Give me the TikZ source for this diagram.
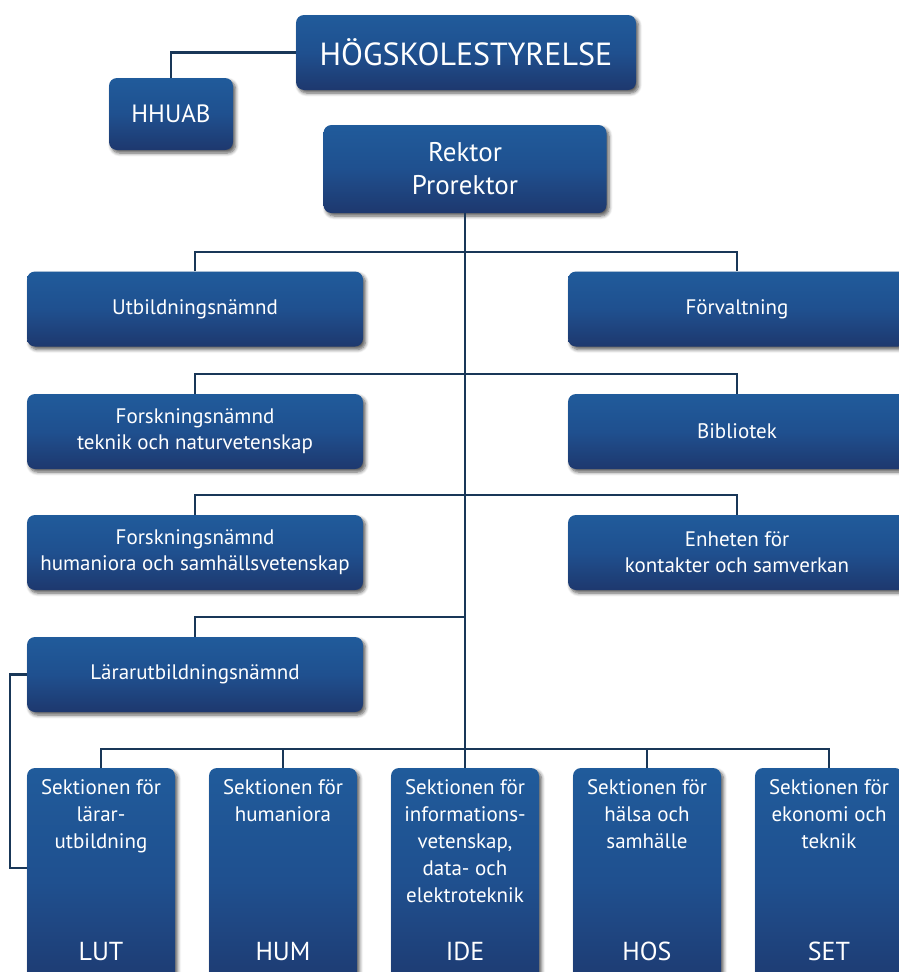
\documentclass[tikz,border=0pt]{standalone}
\usepackage{fontspec}
\setmainfont{PT Sans}
\usetikzlibrary{shadows.blur}
\definecolor{boxtop}{RGB}{32,91,155}
\definecolor{boxmid}{RGB}{31,80,143}
\definecolor{boxbot}{RGB}{30,56,110}
\definecolor{linec}{RGB}{25,55,88}
\tikzset{
  orgbox/.style={rounded corners=8pt, top color=boxtop, bottom color=boxbot, middle color=boxmid, draw=none,
    text=white, align=center, font=\fontsize{21}{26}\selectfont, inner sep=0pt,
    blur shadow={shadow xshift=2.5pt, shadow yshift=-3pt, shadow blur steps=6,
      shadow blur radius=3.5pt, shadow opacity=65}},
  sidebox/.style={orgbox, minimum width=336pt, minimum height=75pt},
  secbox/.style={orgbox, minimum width=148pt, minimum height=227pt},
  sectext/.style={text=white, align=center, font=\fontsize{21}{27}\selectfont, inner sep=0pt},
  abbr/.style={text=white, font=\fontsize{26}{30}\selectfont, inner sep=0pt},
  conn/.style={draw=linec, line width=2.8pt},
}
\begin{document}
\begin{tikzpicture}[x=1pt,y=-1pt]
\useasboundingbox (0,0) rectangle (899,972);
\clip (0,0) rectangle (899,972);

% coordinates for buses
\coordinate (j1) at (465,252);
\coordinate (j2) at (465,374);
\coordinate (j3) at (465,495);
\coordinate (j4) at (465,617);
\coordinate (j5) at (465,749);
\coordinate (bk) at (10,868);
\coordinate (abl) at (0,960);

% boxes
\node[orgbox, minimum width=340pt, minimum height=75pt, font=\fontsize{32}{36}\selectfont] (hs) at (466,52.5) {HÖGSKOLESTYRELSE};
\node[orgbox, minimum width=124pt, minimum height=72pt, font=\fontsize{25}{30}\selectfont] (hhuab) at (171,114) {HHUAB};
\node[orgbox, minimum width=283pt, minimum height=88pt, font=\fontsize{27}{33}\selectfont] (rektor) at (465,169) {Rektor\\Prorektor};

\node[sidebox] (utb) at (195,309) {Utbildningsnämnd};
\node[sidebox, minimum width=338pt] (forv) at (737,309) {Förvaltning};
\node[sidebox] (fnt) at (195,431.5) {Forskningsnämnd\\teknik och naturvetenskap};
\node[sidebox, minimum width=338pt] (bib) at (737,431.5) {Bibliotek};
\node[sidebox] (fnh) at (195,552.5) {Forskningsnämnd\\humaniora och samhällsvetenskap};
\node[sidebox, minimum width=338pt] (enh) at (737,552.5) {Enheten för\\kontakter och samverkan};
\node[sidebox] (lar) at (195,674.5) {Lärarutbildningsnämnd};

\node[secbox] (lut) at (101,881.5) {};
\node[secbox] (hum) at (283,881.5) {};
\node[secbox] (ide) at (465,881.5) {};
\node[secbox] (hos) at (647,881.5) {};
\node[secbox] (set) at (829,881.5) {};

% connectors
\draw[conn] (hhuab.north) |- (hs.west);
\draw[conn] (rektor.south) -- (ide.north);
\draw[conn] (utb.north) |- (j1) -| (forv.north);
\draw[conn] (fnt.north) |- (j2) -| (bib.north);
\draw[conn] (fnh.north) |- (j3) -| (enh.north);
\draw[conn] (lar.north) |- (j4);
\draw[conn] (lut.north) |- (j5) -| (set.north);
\draw[conn] (hum.north) -- (hum.north |- j5);
\draw[conn] (hos.north) -- (hos.north |- j5);
\draw[conn] (lar.west) -| (bk) -- (lut.west |- bk);

% section texts
\node[sectext, anchor=north] (lutt) at ([yshift=-12pt]lut.north) {Sektionen för\\lärar-\\utbildning};
\node[sectext, anchor=north] (humt) at ([yshift=-12pt]hum.north) {Sektionen för\\humaniora};
\node[sectext, anchor=north] (idet) at ([yshift=-12pt]ide.north) {Sektionen för\\informations-\\vetenskap,\\data- och\\elektroteknik};
\node[sectext, anchor=north] (host) at ([yshift=-12pt]hos.north) {Sektionen för\\hälsa och\\samhälle};
\node[sectext, anchor=north] (sett) at ([yshift=-12pt]set.north) {Sektionen för\\ekonomi och\\teknik};

\node[abbr, anchor=base] (luta) at (lut.center |- abl) {LUT};
\node[abbr, anchor=base] (huma) at (hum.center |- abl) {HUM};
\node[abbr, anchor=base] (idea) at (ide.center |- abl) {IDE};
\node[abbr, anchor=base] (hosa) at (hos.center |- abl) {HOS};
\node[abbr, anchor=base] (seta) at (set.center |- abl) {SET};
\end{tikzpicture}
\end{document}
